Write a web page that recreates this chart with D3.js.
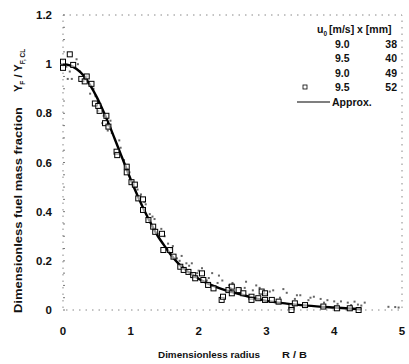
<!DOCTYPE html>
<html>
<head>
<meta charset="utf-8">
<script src="https://cdn.jsdelivr.net/npm/d3@7"></script>
<style>
  body { margin: 0; background: #fff; }
  text { font-family: "Liberation Sans", Arial, sans-serif; font-weight: bold; fill: #111; }
</style>
</head>
<body>
<div id="chart"></div>
<script>
// axis ticks
const xTicks = [0, 1, 2, 3, 4, 5];
const yTicks = [0, 0.2, 0.4, 0.6, 0.8, 1, 1.2];

// approximation curve (r/B, Y/Ycl)
const approxR = [0, 0.1, 0.2, 0.3, 0.4, 0.5, 0.6, 0.7, 0.8, 0.9, 1.0, 1.1, 1.2, 1.3, 1.4, 1.5, 1.6, 1.7, 1.8, 1.9, 2.0, 2.2, 2.4, 2.6, 2.8, 3.0, 3.3, 3.6, 4.0, 4.4];
const approxY = [1.0, 0.995, 0.98, 0.955, 0.915, 0.865, 0.805, 0.74, 0.67, 0.6, 0.53, 0.465, 0.405, 0.35, 0.3, 0.26, 0.222, 0.19, 0.165, 0.145, 0.127, 0.1, 0.08, 0.065, 0.05, 0.037, 0.026, 0.018, 0.01, 0.003];

// u0 = 9.5 m/s, x = 52 mm (squares)
const s52R = [0, 0.1, 0, 0.15, 0.27, 0.32, 0.35, 0.42, 0.47, 0.52, 0.54, 0.62, 0.64, 0.67, 0.79, 0.8, 0.94, 0.94, 1.01, 1.06, 1.11, 1.18, 1.18, 1.26, 1.33, 1.36, 1.46, 1.48, 1.58, 1.63, 1.73, 1.78, 1.85, 1.92, 1.95, 2.05, 2.07, 2.14, 2.22, 2.34, 2.36, 2.44, 2.49, 2.49, 2.59, 2.66, 2.78, 2.78, 2.88, 2.93, 2.98, 2.98, 3.08, 3.18, 3.37, 3.37, 3.42, 3.57, 3.84, 4.04, 4.23, 4.36];
const s52Y = [1.01, 1.04, 0.985, 0.997, 0.94, 0.93, 0.95, 0.92, 0.84, 0.83, 0.81, 0.76, 0.79, 0.746, 0.644, 0.63, 0.583, 0.56, 0.52, 0.51, 0.454, 0.45, 0.407, 0.366, 0.339, 0.318, 0.31, 0.244, 0.244, 0.217, 0.176, 0.163, 0.155, 0.142, 0.129, 0.149, 0.122, 0.102, 0.088, 0.041, 0.054, 0.081, 0.095, 0.068, 0.081, 0.068, 0.054, 0.041, 0.048, 0.075, 0.068, 0.041, 0.041, 0.034, 0.014, 0.0, 0.027, 0.02, 0.014, 0.007, 0.007, 0.0];

// u0 = 9.0 m/s, x = 38 mm (small dots)
const s38R = [0.05, 0.14, 0.22, 0.35, 0.48, 0.6, 0.72, 0.85, 0.98, 1.1, 1.22, 1.35, 1.5, 1.62, 1.75, 1.9, 2.05, 2.2, 2.35, 2.5, 2.7, 2.9, 3.1, 3.3, 3.5, 3.7, 3.9, 4.1, 4.3, 4.45];
const s38Y = [0.99, 0.99, 1.0, 0.95, 0.87, 0.79, 0.72, 0.66, 0.56, 0.49, 0.43, 0.37, 0.3, 0.26, 0.22, 0.19, 0.17, 0.15, 0.12, 0.11, 0.115, 0.09, 0.08, 0.07, 0.06, 0.054, 0.04, 0.035, 0.034, 0.03];

// u0 = 9.5 m/s, x = 40 mm (small dots)
const s40R = [0.07, 0.13, 0.25, 0.4, 0.52, 0.66, 0.78, 0.9, 1.03, 1.15, 1.28, 1.42, 1.55, 1.68, 1.82, 1.98, 2.12, 2.28, 2.45, 2.62, 2.8, 3.0, 3.2, 3.42, 3.62, 3.85, 4.05, 4.25, 4.4, 4.8, 4.95];
const s40Y = [0.94, 0.94, 0.97, 0.88, 0.81, 0.73, 0.64, 0.61, 0.52, 0.47, 0.39, 0.31, 0.27, 0.21, 0.19, 0.15, 0.12, 0.11, 0.1, 0.085, 0.08, 0.065, 0.05, 0.045, 0.04, 0.03, 0.025, 0.02, 0.018, 0.013, 0.01];

// u0 = 9.0 m/s, x = 49 mm (small dots)
const s49R = [0.1, 0.2, 0.3, 0.45, 0.58, 0.7, 0.83, 0.96, 1.08, 1.2, 1.32, 1.45, 1.6, 1.72, 1.86, 2.0, 2.15, 2.3, 2.5, 2.68, 2.85, 3.05, 3.25, 3.45, 3.65, 3.8, 4.0, 4.2, 4.35, 4.9];
const s49Y = [0.97, 1.02, 0.93, 0.9, 0.76, 0.77, 0.69, 0.57, 0.5, 0.44, 0.38, 0.33, 0.25, 0.2, 0.18, 0.16, 0.13, 0.14, 0.105, 0.09, 0.1, 0.075, 0.085, 0.06, 0.05, 0.045, 0.035, 0.03, 0.022, 0.012];

const legendU = ["9.0", "9.5", "9.0", "9.5"];
const legendX = ["38", "40", "49", "52"];

const W = 409, H = 364;
const margin = { top: 15, right: 7, bottom: 54, left: 63 };
const width = W - margin.left - margin.right;
const height = H - margin.top - margin.bottom;

const svg = d3.select("#chart")
  .append("svg")
  .attr("width", W)
  .attr("height", H);

const g = svg.append("g")
  .attr("transform", "translate(" + margin.left + "," + margin.top + ")");

const x = d3.scaleLinear().domain([0, 5]).range([0, width]);
const y = d3.scaleLinear().domain([0, 1.2]).range([height, 0]);

// dotted frame like the scan
g.append("rect")
  .attr("width", width)
  .attr("height", height)
  .attr("fill", "none")
  .attr("stroke", "#888")
  .attr("stroke-width", 1)
  .attr("stroke-dasharray", "1.5,5");

// y axis tick labels
g.selectAll(".ylab")
  .data(yTicks)
  .enter().append("text")
  .attr("class", "ylab")
  .attr("x", -11)
  .attr("y", d => y(d))
  .attr("dy", "0.35em")
  .attr("text-anchor", "end")
  .style("font-size", "11.5px")
  .text(d => d);

// minor ticks on left axis
g.selectAll(".ytick")
  .data(d3.range(0, 1.21, 0.05))
  .enter().append("line")
  .attr("x1", 0).attr("x2", 2)
  .attr("y1", d => y(d)).attr("y2", d => y(d))
  .attr("stroke", "#777");

// x axis tick labels
g.selectAll(".xlab")
  .data(xTicks)
  .enter().append("text")
  .attr("class", "xlab")
  .attr("x", d => x(d))
  .attr("y", height + 21)
  .attr("dy", "0.35em")
  .attr("text-anchor", "middle")
  .style("font-size", "11.5px")
  .text(d => d);

// x axis title
svg.append("text")
  .attr("x", 158)
  .attr("y", 358)
  .style("font-size", "9.5px")
  .attr("textLength", 102)
  .attr("lengthAdjust", "spacingAndGlyphs")
  .text("Dimensionless radius");
svg.append("text")
  .attr("x", 282)
  .attr("y", 358)
  .style("font-size", "9.5px")
  .attr("textLength", 25)
  .attr("lengthAdjust", "spacingAndGlyphs")
  .text("R / B");

// y axis title (two pieces, rotated)
svg.append("text")
  .attr("transform", "translate(22,313) rotate(-90)")
  .style("font-size", "11.5px")
  .attr("textLength", 206)
  .attr("lengthAdjust", "spacingAndGlyphs")
  .text("Dimensionless fuel mass fraction");
const yt = svg.append("text")
  .attr("transform", "translate(22,92) rotate(-90)")
  .style("font-size", "11px");
yt.append("tspan").text("Y");
yt.append("tspan").attr("dy", 3).style("font-size", "6.5px").text("F");
yt.append("tspan").attr("dy", -3).text(" / Y");
yt.append("tspan").attr("dy", 3).style("font-size", "6.5px").text("F, CL");

// small dot series
const dotSeries = [[s38R, s38Y], [s40R, s40Y], [s49R, s49Y]];
dotSeries.forEach(([rs, ys]) => {
  g.selectAll(null)
    .data(rs.map((r, i) => [r, ys[i]]))
    .enter().append("rect")
    .attr("x", d => x(d[0]) - 1)
    .attr("y", d => y(d[1]) - 1)
    .attr("width", 2)
    .attr("height", 2)
    .attr("fill", "#666");
});

// approximation line
const line = d3.line()
  .x((d, i) => x(approxR[i]))
  .y(d => y(d))
  .curve(d3.curveMonotoneX);

g.append("path")
  .attr("d", line(approxY))
  .attr("fill", "none")
  .attr("stroke", "#000")
  .attr("stroke-width", 2.4);

// squares
g.selectAll(".sq")
  .data(s52R.map((r, i) => [r, s52Y[i]]))
  .enter().append("rect")
  .attr("class", "sq")
  .attr("x", d => x(d[0]) - 2.5)
  .attr("y", d => y(d[1]) - 2.5)
  .attr("width", 5)
  .attr("height", 5)
  .attr("fill", "#fff")
  .attr("fill-opacity", 0.6)
  .attr("stroke", "#000")
  .attr("stroke-width", 1);

// legend
const lg = svg.append("g").style("font-size", "10.5px");
const hd = lg.append("text").attr("x", 317).attr("y", 33);
hd.append("tspan").text("u");
hd.append("tspan").attr("dy", 3).style("font-size", "6.5px").text("0");
hd.append("tspan").attr("dy", -3).attr("dx", 2).text("[m/s] x [mm]");

legendU.forEach((u, i) => {
  lg.append("text").attr("x", 335).attr("y", 47.5 + i * 14.5).text(u);
  lg.append("text").attr("x", 397).attr("y", 47.5 + i * 14.5).attr("text-anchor", "end").text(legendX[i]);
});
lg.append("rect")
  .attr("x", 303).attr("y", 85)
  .attr("width", 4).attr("height", 4)
  .attr("fill", "none").attr("stroke", "#000").attr("stroke-width", 0.8);
lg.append("line")
  .attr("x1", 297).attr("x2", 330)
  .attr("y1", 102).attr("y2", 102)
  .attr("stroke", "#000").attr("stroke-width", 1.2);
lg.append("text").attr("x", 332).attr("y", 106).text("Approx.");
</script>
</body>
</html>
